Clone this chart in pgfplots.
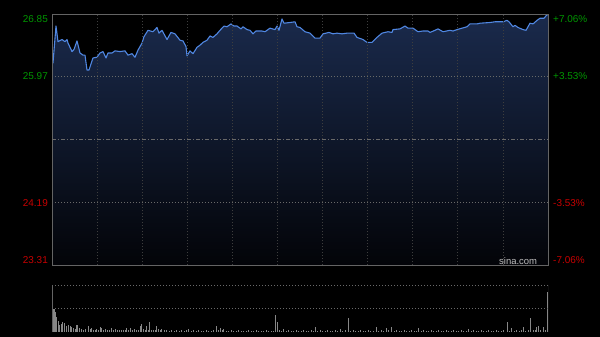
\documentclass[border=0pt]{standalone}
\usepackage{pgfplots}
\pgfplotsset{compat=1.18}
\usepackage{pgfplotstable}
\usepackage{fontspec}
\setmainfont{Liberation Sans}
\definecolor{bgtop}{RGB}{26,42,76}
\definecolor{bgbot}{RGB}{3,4,8}
\definecolor{linec}{RGB}{80,135,226}
\definecolor{framec}{RGB}{100,100,100}
\definecolor{vgrid}{RGB}{62,62,62}
\definecolor{hgrid}{RGB}{105,105,105}
\definecolor{upg}{RGB}{0,150,0}
\definecolor{dnr}{RGB}{200,0,0}
\definecolor{volc}{RGB}{135,135,135}

\pgfplotstableread{
t p
0 26.18
1 26.16
4 26.68
6 26.46
10 26.49
13 26.46
15 26.49
16 26.44
20 26.32
22 26.35
25 26.47
28 26.30
31 26.27
33 26.27
35 26.06
37 26.06
41 26.23
45 26.24
48 26.30
51 26.32
54 26.23
56 26.30
60 26.30
63 26.33
68 26.32
73 26.33
76 26.27
80 26.29
83 26.24
86 26.34
90 26.44
92 26.53
96 26.62
101 26.60
105 26.66
107 26.58
110 26.62
115 26.49
119 26.59
123 26.57
128 26.48
131 26.47
134 26.39
135 26.26
138 26.33
141 26.29
145 26.38
148 26.41
151 26.45
155 26.48
158 26.54
161 26.52
165 26.57
168 26.62
172 26.68
175 26.67
179 26.71
182 26.68
185 26.68
189 26.64
191 26.67
195 26.63
198 26.62
201 26.57
204 26.61
210 26.61
213 26.60
218 26.65
223 26.63
225 26.68
227 26.62
230 26.78
232 26.72
238 26.73
243 26.74
245 26.67
248 26.66
253 26.60
258 26.58
263 26.51
268 26.51
271 26.57
277 26.59
281 26.57
285 26.58
290 26.57
295 26.58
302 26.58
305 26.52
311 26.49
315 26.45
320 26.45
325 26.52
330 26.58
336 26.60
340 26.59
341 26.63
348 26.64
353 26.68
356 26.65
361 26.65
366 26.60
371 26.61
376 26.61
378 26.59
383 26.62
386 26.64
391 26.60
398 26.62
401 26.61
405 26.63
410 26.65
415 26.67
418 26.71
425 26.71
428 26.72
438 26.73
443 26.74
451 26.74
455 26.76
457 26.74
461 26.67
463 26.69
466 26.66
471 26.63
474 26.62
478 26.72
481 26.71
485 26.76
488 26.79
492 26.79
495 26.84
496 26.84
}\price

\pgfplotstableread{
t v
0.5 47
1.5 23
2.5 23
3.7 20
4.7 15
6.3 11
7.3 7
9 8
10.7 10
12 9
14 6
16.3 7
18 6
19.7 5
21.3 4
23 3
24 7
25.3 7
27.3 4
29.7 3
31.5 2
33.5 3
36.3 6
38 3
39.7 4
41.5 2
43 2.5
44.7 3
46.5 2
48 5
49.7 4
51.5 2
53.5 3
55.5 2
57.5 2.5
59.7 4
61.5 2
63.5 3
65.5 2
67.5 2.5
69.5 2
71.5 2
73.5 2.5
74.7 4
76.5 2
78 4
80 2
82 3
84 2
86 2.5
88 6
89.7 8
91.5 3
93 2
94.5 6
96 2
97.3 10
99.5 2
101.5 2.5
103.5 2
104.7 6
106.5 3
108.5 2
109.7 3
112 2
114.5 2
117 1.5
119.5 2
122 1.5
124.5 2
127 1.5
129.5 2
132 1.5
134.5 2
136.3 3
139 1.5
141.5 2
144 1.5
146.5 2
149 1.5
151.5 1.5
154 2
156.5 1.5
159 1.5
161.5 2
164.7 6
166.5 2
168 4
170 2
171.3 3
174 1.5
176.5 1.5
179 2
181.5 1.5
184 1.5
186.5 2
189 1.5
191.5 1.5
194 1.5
196.5 2
199 1.5
201.5 1.5
204 2
206.5 1.5
209 1.5
211.5 1.5
214 2
216.5 1.5
219 1.5
221.5 1.5
223.7 17
225.3 10
227.5 2
229.5 1.5
231.3 3
234 1.5
236.5 2
239 1.5
241.5 1.5
244 2
246.5 1.5
249 1.5
251.5 2
254 1.5
256.5 1.5
259 2
261.5 1.5
263 5
265.5 1.5
268 2
270.5 1.5
273 1.5
275.5 2
278 1.5
280.5 1.5
283 2
285.5 1.5
288 3
290.5 1.5
293 2
296.3 14
298.5 1.5
301 2
303.5 1.5
306 1.5
308.5 2
311 1.5
313.5 1.5
316 2
318.5 1.5
321 1.5
324 5
326.5 1.5
329 2
331.5 1.5
334 4
336.5 2
339.7 5
342 1.5
344.5 2
347 1.5
349.5 1.5
352 2
354.5 1.5
357 1.5
359.5 2
362 1.5
364.5 1.5
366.3 4
369 1.5
371.5 2
374 1.5
376.5 1.5
379 2
381.5 1.5
384 1.5
386.5 2
389 1.5
391.5 1.5
394 2
396.5 1.5
399 1.5
401.5 2
404 1.5
406.5 1.5
409 2
411.5 1.5
414 1.5
416.3 3
419 1.5
421.5 2
424 1.5
426.5 1.5
429 2
431.5 1.5
434 1.5
436.5 2
439 1.5
441.5 1.5
444 2
446.5 1.5
449 1.5
451.5 2
455.3 10
457.5 1.5
459.7 4
462 1.5
464.5 2
467 1.5
469 2
471.3 5
473.5 1.5
476 2
478.7 14
481 2
483 2
484.7 5
486.3 6
488.5 2
491.3 5
493.5 2
495.5 40
}\volume

\begin{document}
\begin{tikzpicture}
\fill[black] (0bp,0bp) rectangle (600bp,337bp);
\begin{axis}[
  at={(52bp,72bp)}, anchor=south west,
  scale only axis, width=496bp, height=251bp,
  xmin=0, xmax=496, ymin=23.31, ymax=26.85,
  axis line style={framec, line width=0.8bp},
  xtick={45.09,90.18,135.27,180.36,225.45,270.55,315.64,360.73,405.82,450.91},
  ytick={24.19,25.97},
  xticklabels={}, yticklabels={},
  major tick length=0pt,
  grid=major,
  major x grid style={vgrid, line width=0.8bp, dash pattern=on 1bp off 2bp},
  major y grid style={hgrid, line width=0.8bp, dash pattern=on 1bp off 2bp},
  extra y ticks={25.08}, extra y tick labels={},
  extra y tick style={major y grid style={hgrid, line width=0.8bp, dash pattern=on 4bp off 2bp on 1bp off 2bp}},
  axis on top,
]
\addplot[draw=none, top color=bgtop, bottom color=bgbot] table[x=t,y=p] {\price} -- (axis cs:496,23.31) -- (axis cs:0,23.31) -- cycle;
\addplot[linec, line width=1.1bp, line join=round] table[x=t,y=p] {\price};
\end{axis}

\begin{axis}[
  at={(52bp,5bp)}, anchor=south west,
  scale only axis, width=496bp, height=47bp,
  xmin=0, xmax=496, ymin=0, ymax=47,
  axis line style={draw=none},
  xtick=\empty, ytick=\empty,
]
\addplot[ycomb, volc, line width=0.8bp, mark=none] table[x=t,y=v] {\volume};
\draw[hgrid, line width=0.8bp, dash pattern=on 1bp off 2bp] (rel axis cs:0,0.5) -- (rel axis cs:1,0.5);
\draw[hgrid, line width=0.8bp, dash pattern=on 1bp off 2bp] (rel axis cs:0,1) -- (rel axis cs:1,1);
\draw[framec, line width=0.8bp] (rel axis cs:0,1) -- (rel axis cs:0,0) -- (rel axis cs:1,0) -- (rel axis cs:1,1);
\end{axis}

\begin{scope}[every node/.style={inner sep=0pt, font=\fontsize{10}{12}\selectfont}]
\node[anchor=east, text=upg] at (48bp,318.3bp) {26.85};
\node[anchor=east, text=upg] at (48bp,260.5bp) {25.97};
\node[anchor=east, text=dnr] at (48bp,134.3bp) {24.19};
\node[anchor=east, text=dnr] at (48bp,77bp) {23.31};
\node[anchor=west, text=upg] at (553bp,318.3bp) {+7.06\%};
\node[anchor=west, text=upg] at (553bp,260.5bp) {+3.53\%};
\node[anchor=west, text=dnr] at (553bp,134.3bp) {-3.53\%};
\node[anchor=west, text=dnr] at (553bp,77bp) {-7.06\%};
\end{scope}
\node[anchor=west, inner sep=0pt, text={rgb,255:red,190;green,190;blue,190}, font=\fontsize{9.5}{11}\selectfont] at (499bp,75.5bp) {sina.com};
\end{tikzpicture}
\end{document}
